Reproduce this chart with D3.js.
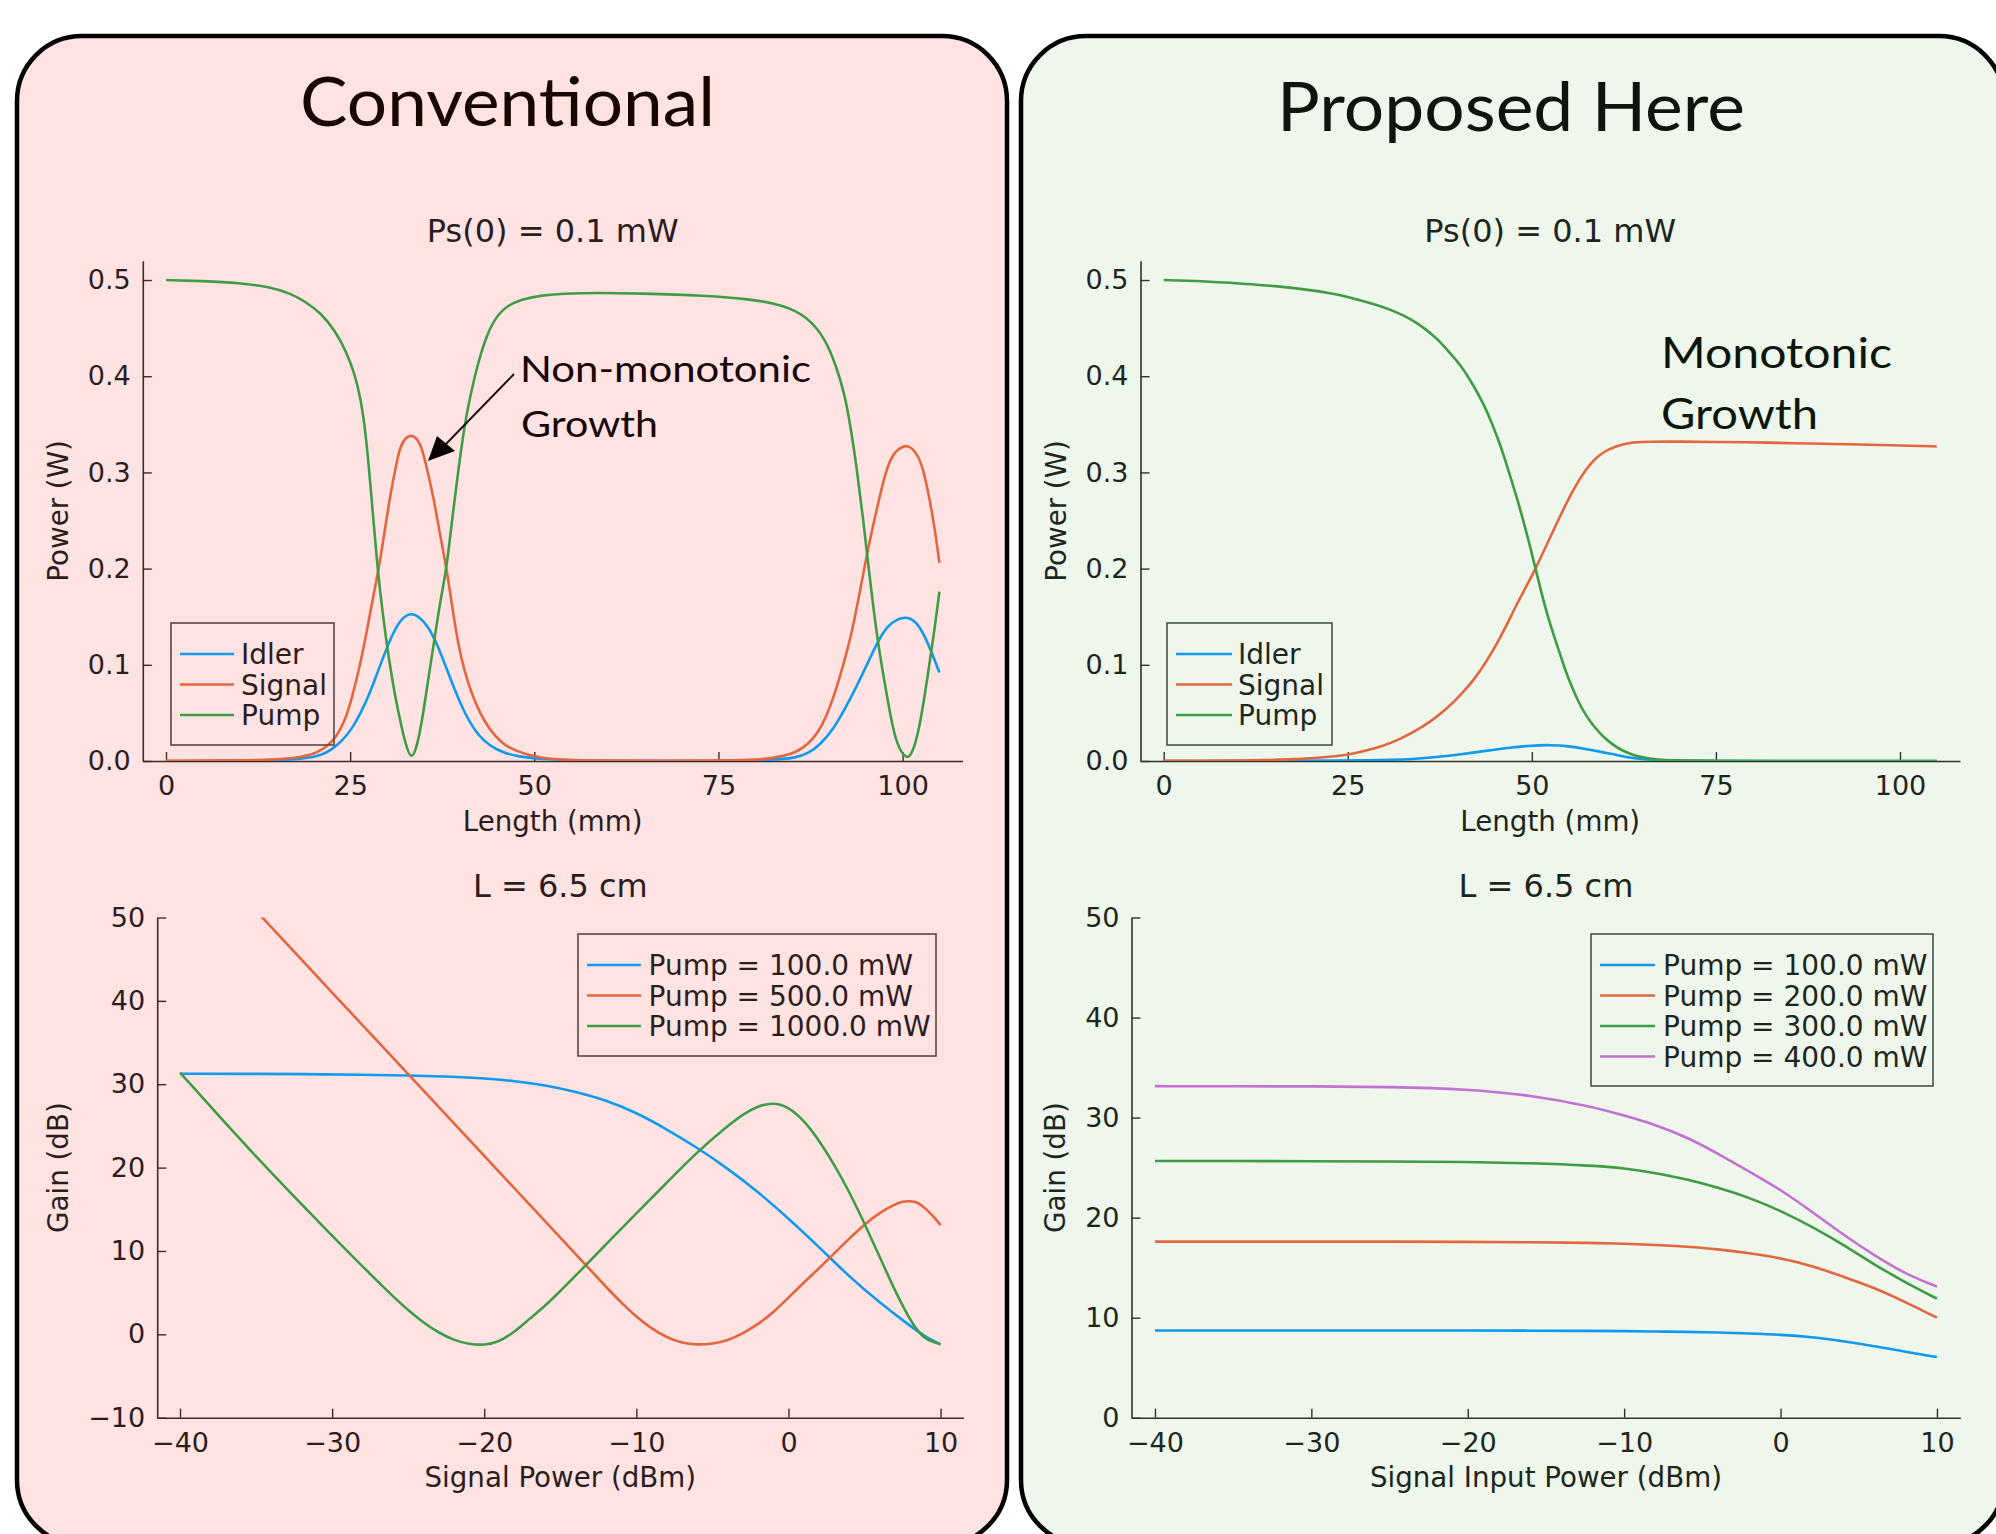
<!DOCTYPE html>
<html><head><meta charset="utf-8">
<script src="https://cdn.jsdelivr.net/npm/d3@7"></script>
<style>body{margin:0;background:#fff}svg{display:block}</style>
</head><body>
<svg id="c" width="1996" height="1534"></svg>
<script>
// ---------- DATA ----------
const powerTicksW = [0, 0.1, 0.2, 0.3, 0.4, 0.5];
const lengthTicksMm = [0, 25, 50, 75, 100];
const dbmTicks = [-40, -30, -20, -10, 0, 10];
const gainTicksConv = [-10, 0, 10, 20, 30, 40, 50];
const gainTicksProp = [0, 10, 20, 30, 40, 50];

const fieldNames = ["Idler", "Signal", "Pump"];
const convPumpLegend = ["Pump = 100.0 mW", "Pump = 500.0 mW", "Pump = 1000.0 mW"];
const propPumpLegend = ["Pump = 100.0 mW", "Pump = 200.0 mW", "Pump = 300.0 mW", "Pump = 400.0 mW"];

// Conventional: power vs length
const convIdlerX = [0,10,15,18.1,20,21.4,22.7,23.9,25.2,26.4,27.7,28.9,30,31,32.1,33.25,34.4,35.6,36.9,38.1,39.4,40.6,41.9,43.1,45,47.2,52.2,60,75,82,85.5,87.2,88.8,90.5,92.1,93.8,95.4,96.7,97.9,99.3,100.8,101.9,102.9,104,105];
const convIdlerW = [0,.0003,.001,.002,.004,.007,.013,.021,.033,.049,.071,.096,.118,.136,.149,.154,.15,.14,.12,.096,.07,.049,.032,.021,.011,.005,.001,.0002,.0002,.001,.003,.008,.017,.032,.053,.078,.104,.125,.14,.148,.15,.144,.132,.112,.092];
const convSignalX = [0,10,15,17.3,19,20.6,22,23.1,24.2,25.2,26.3,27.3,28.1,28.9,29.8,30.6,31.3,31.8,32.5,33.25,34,34.7,35.5,36.4,37.2,38.1,38.9,39.7,40.5,41.4,42.6,43.9,45.5,47.2,50.5,55,60,70,78,81,83.8,85.5,87.1,88.4,89.6,90.9,92.1,93,93.8,94.6,95.4,96.5,97.5,98.4,99.2,100,100.8,101.7,102.5,103.1,103.7,104.4,105];
const convSignalW = [.0001,.0005,.0015,.003,.005,.009,.016,.025,.04,.064,.098,.136,.17,.2,.245,.283,.31,.327,.336,.339,.336,.327,.302,.271,.235,.2,.158,.12,.094,.072,.05,.033,.019,.011,.003,.0008,.0003,.0002,.0006,.0015,.005,.009,.017,.028,.045,.072,.104,.13,.16,.192,.224,.262,.295,.315,.323,.327,.328,.322,.311,.293,.271,.24,.206];
const convPumpX = [0,5,10,14,17,19,21,23,24.5,25.6,26.4,27.1,27.9,28.7,29.5,30.3,31,31.7,32.5,33.3,34.1,34.9,35.6,36.4,37.2,38.1,38.9,39.7,40.5,41.4,42.4,43.5,44.8,46.4,48.5,50.5,56,65,73,79.6,83.8,87.1,89.6,91,92.1,93,93.8,94.6,95.4,96.5,97.5,98.4,99.2,100.6,101.4,102.1,102.9,103.7,104.4,105];
const convPumpW = [.500,.499,.497,.493,.486,.477,.466,.447,.425,.403,.378,.343,.275,.200,.148,.104,.072,.045,.018,.000,.015,.048,.085,.124,.165,.200,.255,.303,.348,.383,.415,.442,.462,.474,.480,.484,.487,.486,.484,.480,.474,.462,.438,.410,.383,.345,.303,.255,.200,.130,.084,.045,.017,.000,.010,.028,.062,.104,.140,.176];

// Proposed: power vs length
const propIdlerX = [0,20,28,33.7,37,40.4,43.7,47.1,50,52.6,55,57.2,59.7,62.2,64.3,66.4,70,80,105];
const propIdlerW = [0,.0002,.0007,.0016,.004,.007,.0105,.014,.0162,.0167,.0155,.0127,.009,.005,.0025,.001,.0002,0,0];
const propSignalX = [0,5,10,14,17,20.5,23.7,26,28.7,31,33.7,36.3,38.7,40.5,42.1,43.8,45.4,46.7,48,49.3,50.5,51.8,53,54.3,55.5,56.7,58,59.6,61.3,63.3,65.5,69.7,75,82.3,88,94.8,100,105];
const propSignalW = [.0001,.0002,.0004,.0009,.0016,.003,.005,.008,.013,.019,.029,.041,.056,.07,.084,.103,.124,.143,.164,.182,.2,.221,.241,.262,.28,.296,.31,.321,.327,.331,.332,.332,.3318,.331,.330,.329,.328,.327];
const propPumpX = [0,5,11,15,19.5,23,26.2,29,31.2,33.5,35.4,37,38.7,40.5,42.1,43.4,44.6,45.9,47.1,48,48.8,49.7,50.5,51.3,52.1,53,53.8,54.6,55.5,56.3,57.2,58.4,59.7,61,62.2,63.8,65.5,67,69,75,85,95,105];
const propPumpW = [.5,.499,.496,.494,.49,.486,.48,.474,.468,.46,.45,.44,.426,.41,.39,.372,.351,.325,.295,.273,.251,.225,.2,.175,.152,.13,.112,.093,.076,.062,.049,.036,.025,.017,.011,.006,.003,.0015,.0005,.0001,0,0,0];

// Conventional: gain vs signal power
const gConvP100X = [-40,-36,-32,-28,-25,-22,-20,-18,-16,-14,-12,-10,-8,-6,-4,-2,0,2,4,6,8,9,10];
const gConvP100 = [31.26,31.25,31.22,31.15,31.05,30.9,30.7,30.4,29.9,29.1,28.1,26.6,24.6,22.4,19.9,17.1,13.9,10.5,6.9,3.8,1.0,-0.3,-1.2];
const gConvP500X = [-40,-35,-30,-25,-20,-15,-12,-11,-10,-9,-8,-7,-6,-5,-4,-3,-2,-1,0,1,2,3,4,5,6,7,7.5,8,8.5,9,9.5,10];
const gConvP500 = [60.6,50.8,41.0,31.2,21.4,11.6,5.7,3.8,2.1,0.7,-0.4,-1.05,-1.25,-1.15,-0.75,0.1,1.2,2.6,4.4,6.2,7.9,9.7,11.5,13.2,14.6,15.6,15.95,16.0,15.85,15.1,14.2,13.1];
const gConvP1000X = [-40,-35,-30,-26,-25,-24,-23,-22,-21,-20,-19,-18,-17,-16,-15,-14,-12,-10,-8,-6,-4,-3,-2,-1,0,1,2,3,4,5,6,7,8,8.5,9,10];
const gConvP1000 = [31.4,21.2,11.8,4.5,2.9,1.4,0.2,-0.7,-1.2,-1.3,-0.9,0.3,1.9,3.4,5.2,7.0,10.8,14.5,18.2,21.9,25.0,26.4,27.4,27.8,27.3,25.7,23.3,20.4,17.1,13.3,9.3,5.2,1.7,0.4,-0.6,-1.2];

// Proposed: gain vs signal input power
const gPropX = [-40,-35,-30,-25,-20,-16,-12,-10,-8,-6,-4,-2,0,2,4,6,8,10];
const gProp100 = [8.72,8.72,8.72,8.72,8.71,8.7,8.68,8.65,8.62,8.58,8.52,8.42,8.3,8.07,7.65,7.15,6.6,6.06];
const gProp200 = [17.6,17.6,17.6,17.6,17.58,17.55,17.47,17.4,17.28,17.1,16.85,16.45,15.95,15.2,14.1,13.0,11.55,10.0];
const gProp300 = [25.66,25.66,25.64,25.62,25.57,25.45,25.2,24.95,24.45,23.85,23.0,22.0,20.7,19.1,17.3,15.3,13.5,11.9];
const gProp400 = [33.14,33.13,33.12,33.08,32.85,32.25,31.1,30.2,29.3,28.05,26.4,24.6,22.8,20.6,18.3,16.2,14.35,13.1];

// ---------- STYLE ----------
const C_BLUE = "#0f9aee", C_ORANGE = "#e3663f", C_GREEN = "#3f9c45", C_PURPLE = "#c371d2";
const TICK_FONT = 27, GUIDE_FONT = 27.7, LEG_FONT = 28, TITLE_FONT = 32;
const FF = "'DejaVu Sans', sans-serif";
const HF = "Lato, 'Open Sans', sans-serif";

const svg = d3.select("#c");

function panel(x0, x1, fill) {
  svg.append("rect").attr("x", x0).attr("y", 36).attr("width", x1 - x0).attr("height", 1509)
    .attr("rx", 65).attr("ry", 65).attr("fill", fill);
}
panel(17, 1007, "#ffe3e3");
panel(1021, 2004, "#eff6ec");

let clipN = 0;
function chart(o) {
  const g = svg.append("g");
  const x = d3.scaleLinear().domain(o.xd).range(o.xr);
  const y = d3.scaleLinear().domain(o.yd).range(o.yr);
  const id = "clip" + (clipN++);
  g.append("clipPath").attr("id", id).append("rect")
    .attr("x", o.xr[0]).attr("y", o.yr[1]).attr("width", o.xr[1] - o.xr[0]).attr("height", o.yr[0] - o.yr[1]);

  const xa = g.append("g").attr("transform", `translate(0,${o.yr[0]})`)
    .call(d3.axisBottom(x).tickValues(o.xt).tickSizeInner(-9).tickSizeOuter(0).tickPadding(15).tickFormat(d3.format("d")));
  const ya = g.append("g").attr("transform", `translate(${o.xr[0]},0)`)
    .call(d3.axisLeft(y).tickValues(o.yt).tickSizeInner(-9).tickSizeOuter(0).tickPadding(12).tickFormat(d3.format(o.yf)));
  [xa, ya].forEach(a => {
    a.attr("font-family", FF).attr("font-size", TICK_FONT);
    a.selectAll("text").attr("fill", o.tc);
    a.selectAll("line").attr("stroke", o.ac).attr("stroke-width", 1.4);
    a.select(".domain").attr("stroke", o.ac).attr("stroke-width", 1.6);
  });

  g.append("text").attr("x", (o.xr[0] + o.xr[1]) / 2).attr("y", o.titleY).attr("text-anchor", "middle")
    .attr("font-family", FF).attr("font-size", TITLE_FONT).attr("fill", o.tc).text(o.title);
  g.append("text").attr("x", (o.xr[0] + o.xr[1]) / 2).attr("y", o.xLabY).attr("text-anchor", "middle")
    .attr("font-family", FF).attr("font-size", GUIDE_FONT).attr("fill", o.tc).text(o.xLab);
  const cy = (o.yr[0] + o.yr[1]) / 2;
  g.append("text").attr("transform", `translate(${o.yLabX},${cy}) rotate(-90)`).attr("text-anchor", "middle")
    .attr("font-family", FF).attr("font-size", GUIDE_FONT).attr("fill", o.tc).text(o.yLab);

  const line = d3.line().x(d => x(d[0])).y(d => y(d[1])).curve(d3.curveBasis);
  const lg = g.append("g").attr("clip-path", `url(#${id})`);
  o.series.forEach(s => {
    const pts = s.x.map((v, i) => [v, s.y[i]]);
    lg.append("path").attr("d", line(pts)).attr("fill", "none").attr("stroke", s.c)
      .attr("stroke-width", 2.6).attr("stroke-linejoin", "round");
  });

  const L = o.leg;
  g.append("rect").attr("x", L.x0).attr("y", L.y0).attr("width", L.x1 - L.x0).attr("height", L.y1 - L.y0)
    .attr("fill", "none").attr("stroke", o.lc).attr("stroke-width", 1.6);
  o.series.forEach((s, i) => {
    const ry = L.r0 + i * L.dr;
    g.append("line").attr("x1", L.l0).attr("x2", L.l1).attr("y1", ry).attr("y2", ry)
      .attr("stroke", s.c).attr("stroke-width", 2.6);
    g.append("text").attr("x", L.t0).attr("y", ry + 10).attr("font-family", FF).attr("font-size", LEG_FONT)
      .attr("fill", o.tc).text(s.name);
  });
}

const TC_L = "#2c1c1c", AC_L = "#3a2a2a", LC_L = "#5a4646";
const TC_R = "#1c261c", AC_R = "#2a362a", LC_R = "#465446";

chart({
  xd: [-3.15, 108.15], xr: [142.8, 962.6], yd: [0, 0.52], yr: [761, 260.8],
  xt: lengthTicksMm, yt: powerTicksW, yf: ".1f",
  title: "Ps(0) = 0.1 mW", titleY: 242, xLab: "Length (mm)", xLabY: 831, yLab: "Power (W)", yLabX: 68,
  tc: TC_L, ac: AC_L, lc: LC_L,
  series: [
    {name: fieldNames[0], x: convIdlerX, y: convIdlerW, c: C_BLUE},
    {name: fieldNames[1], x: convSignalX, y: convSignalW, c: C_ORANGE},
    {name: fieldNames[2], x: convPumpX, y: convPumpW, c: C_GREEN}],
  leg: {x0: 171, y0: 623, x1: 334, y1: 745, l0: 180, l1: 234, t0: 241, r0: 654, dr: 30.5}
});
chart({
  xd: [-3.15, 108.15], xr: [1140.5, 1960], yd: [0, 0.52], yr: [761, 260.8],
  xt: lengthTicksMm, yt: powerTicksW, yf: ".1f",
  title: "Ps(0) = 0.1 mW", titleY: 242, xLab: "Length (mm)", xLabY: 831, yLab: "Power (W)", yLabX: 1066,
  tc: TC_R, ac: AC_R, lc: LC_R,
  series: [
    {name: fieldNames[0], x: propIdlerX, y: propIdlerW, c: C_BLUE},
    {name: fieldNames[1], x: propSignalX, y: propSignalW, c: C_ORANGE},
    {name: fieldNames[2], x: propPumpX, y: propPumpW, c: C_GREEN}],
  leg: {x0: 1167, y0: 623, x1: 1332, y1: 745, l0: 1176, l1: 1232, t0: 1238, r0: 654, dr: 30.5}
});
chart({
  xd: [-41.5, 11.5], xr: [157.2, 963.4], yd: [-10, 50], yr: [1417.7, 917.5],
  xt: dbmTicks, yt: gainTicksConv, yf: "d",
  title: "L = 6.5 cm", titleY: 897, xLab: "Signal Power (dBm)", xLabY: 1487, yLab: "Gain (dB)", yLabX: 68,
  tc: TC_L, ac: AC_L, lc: LC_L,
  series: [
    {name: convPumpLegend[0], x: gConvP100X, y: gConvP100, c: C_BLUE},
    {name: convPumpLegend[1], x: gConvP500X, y: gConvP500, c: C_ORANGE},
    {name: convPumpLegend[2], x: gConvP1000X, y: gConvP1000, c: C_GREEN}],
  leg: {x0: 578, y0: 934, x1: 936, y1: 1056, l0: 587, l1: 641, t0: 648.5, r0: 965, dr: 30.5}
});
chart({
  xd: [-41.5, 11.5], xr: [1131.5, 1960.4], yd: [0, 50], yr: [1417.7, 917.5],
  xt: dbmTicks, yt: gainTicksProp, yf: "d",
  title: "L = 6.5 cm", titleY: 897, xLab: "Signal Input Power (dBm)", xLabY: 1487, yLab: "Gain (dB)", yLabX: 1065,
  tc: TC_R, ac: AC_R, lc: LC_R,
  series: [
    {name: propPumpLegend[0], x: gPropX, y: gProp100, c: C_BLUE},
    {name: propPumpLegend[1], x: gPropX, y: gProp200, c: C_ORANGE},
    {name: propPumpLegend[2], x: gPropX, y: gProp300, c: C_GREEN},
    {name: propPumpLegend[3], x: gPropX, y: gProp400, c: C_PURPLE}],
  leg: {x0: 1591, y0: 934, x1: 1933, y1: 1086, l0: 1600, l1: 1655, t0: 1663, r0: 965, dr: 30.5}
});

function htext(str, x, y, size, width, fill) {
  svg.append("text").attr("x", x).attr("y", y).attr("font-family", HF).attr("font-size", size)
    .attr("fill", fill).attr("textLength", width).attr("lengthAdjust", "spacingAndGlyphs").text(str);
}
htext("Conventional", 300, 126, 68, 415, "#180606");
htext("Proposed Here", 1277, 131, 67, 468, "#0c160c");
htext("Non-monotonic", 520, 382, 37, 291, "#180606");
htext("Growth", 521, 437, 37, 137, "#180606");
htext("Monotonic", 1661, 368, 42, 231, "#0c160c");
htext("Growth", 1661, 429, 42, 157, "#0c160c");

svg.append("line").attr("x1", 514).attr("y1", 374).attr("x2", 446).attr("y2", 444)
  .attr("stroke", "#180606").attr("stroke-width", 1.8);
svg.append("path").attr("d", "M428,461 L437,436 L455,451 Z").attr("fill", "#0a0000");

function border(x0, x1) {
  svg.append("rect").attr("x", x0).attr("y", 36).attr("width", x1 - x0).attr("height", 1509)
    .attr("rx", 65).attr("ry", 65).attr("fill", "none").attr("stroke", "#000").attr("stroke-width", 4.5);
}
border(17, 1007);
border(1021, 2004);
</script>
</body></html>
